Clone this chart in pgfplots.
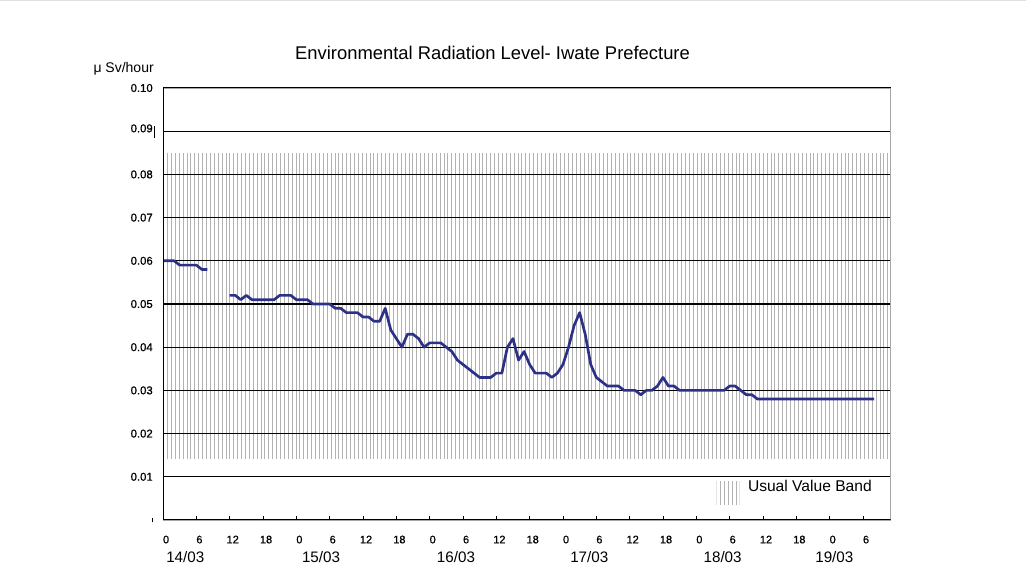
\documentclass[border=0pt]{standalone}
\usepackage{fontspec}
\setmainfont{Liberation Sans}
\newfontfamily\tickfont[FakeBold=0.8]{Liberation Sans}
\usepackage{pgfplots}
\pgfplotsset{compat=1.18}
\usetikzlibrary{patterns.meta}
\definecolor{series}{RGB}{44,48,134}
\definecolor{bandgray}{RGB}{178,178,178}
\begin{document}
\begin{tikzpicture}
\begin{axis}[
  at={(122.25pt,44.25pt)}, anchor=south west,
  scale only axis, width=545.8pt, height=324pt,
  xmin=0, xmax=131, ymin=0, ymax=0.1,
  set layers,
  axis line style={draw=gray!70, line width=0.6pt},
  xtick={0,6,...,126},
  xticklabels={0,6,12,18,0,6,12,18,0,6,12,18,0,6,12,18,0,6,12,18,0,6},
  xtick pos=left,
  tick align=inside,
  major tick length=3pt,
  xtick style={black, line width=0.6pt},
  xticklabel style={font=\tickfont\fontsize{8.2}{9.6}\selectfont, anchor=base, inner sep=0pt, yshift=-17.5pt, xshift=2.3pt},
  ytick={0,0.01,0.02,0.03,0.04,0.05,0.06,0.07,0.08,0.09,0.1},
  yticklabels={\rule{0.7pt}{3.5pt},0.01,0.02,0.03,0.04,0.05,0.06,0.07,0.08,0.09\rlap{\hspace{0.6pt}\rule[-4.3pt]{0.6pt}{8.7pt}},0.10},
  ytick style={draw=none},
  yticklabel style={font=\tickfont\fontsize{8.5}{10}\selectfont, anchor=east, inner sep=0pt, xshift=-7.5pt},
  ymajorgrids,
  grid style={black, line width=0.8pt},
  unbounded coords=jump,
]
\addplot[draw=none, pattern={Lines[angle=90,distance=2.92pt,line width=0.45pt]}, pattern color=bandgray, on layer=axis background]
  coordinates {(0,0.0143) (131,0.0143) (131,0.085) (0,0.085)} -- cycle;
\addplot[series, line width=2pt, line join=round, mark=none] coordinates {
(0,0.060)(1,0.060)(2,0.060)(3,0.059)(4,0.059)(5,0.059)(6,0.059)(7,0.058)(8,0.058)(9,nan)
(12,0.052)(13,0.052)(14,0.051)(15,0.052)(16,0.051)(17,0.051)(18,0.051)(19,0.051)(20,0.051)
(21,0.052)(22,0.052)(23,0.052)(24,0.051)(25,0.051)(26,0.051)(27,0.050)(28,0.050)(29,0.050)
(30,0.050)(31,0.049)(32,0.049)(33,0.048)(34,0.048)(35,0.048)(36,0.047)(37,0.047)(38,0.046)
(39,0.046)(40,0.049)(41,0.044)(42,0.042)(43,0.040)(44,0.043)(45,0.043)(46,0.042)(47,0.040)
(48,0.041)(49,0.041)(50,0.041)(51,0.040)(52,0.039)(53,0.037)(54,0.036)(55,0.035)(56,0.034)
(57,0.033)(58,0.033)(59,0.033)(60,0.034)(61,0.034)(62,0.040)(63,0.042)(64,0.037)(65,0.039)
(66,0.036)(67,0.034)(68,0.034)(69,0.034)(70,0.033)(71,0.034)(72,0.036)(73,0.040)(74,0.045)
(75,0.048)(76,0.043)(77,0.036)(78,0.033)(79,0.032)(80,0.031)(81,0.031)(82,0.031)(83,0.030)
(84,0.030)(85,0.030)(86,0.029)(87,0.030)(88,0.030)(89,0.031)(90,0.033)(91,0.031)(92,0.031)
(93,0.030)(94,0.030)(95,0.030)(96,0.030)(97,0.030)(98,0.030)(99,0.030)(100,0.030)(101,0.030)
(102,0.031)(103,0.031)(104,0.030)(105,0.029)(106,0.029)(107,0.028)(108,0.028)(109,0.028)
(110,0.028)(111,0.028)(112,0.028)(113,0.028)(114,0.028)(115,0.028)(116,0.028)(117,0.028)
(118,0.028)(119,0.028)(120,0.028)(121,0.028)(122,0.028)(123,0.028)(124,0.028)(125,0.028)
(126,0.028)(127,0.028)(128,0.028)
};
\draw[black, line width=0.8pt] (rel axis cs:0,1) -- (rel axis cs:0,0) -- (rel axis cs:1,0);
\end{axis}
\draw[gray!25, line width=0.75pt] (0,433.9pt) -- (769.5pt,433.9pt);
\node[anchor=base, inner sep=0pt, font=\fontsize{13.8}{16}\selectfont] at (369.4pt,389.8pt) {Environmental Radiation Level- Iwate Prefecture};
\node[anchor=base east, inner sep=0pt, font=\fontsize{10.5}{12}\selectfont] at (115.5pt,379.7pt) {μ Sv/hour};
\foreach \xx/\dd in {124.5/14, 226.3/15, 327.5/16, 427.5/17, 527.5/18, 611.3/19}
  \node[anchor=base west, inner sep=0pt, font=\fontsize{11.4}{13}\selectfont] at (\xx pt,12.2pt) {\dd/03};
\fill[pattern={Lines[angle=90,distance=2.92pt,line width=0.45pt]}, pattern color=bandgray] (537.5pt,55.5pt) rectangle (554.5pt,73pt);
\node[anchor=base west, inner sep=0pt, font=\fontsize{11.7}{14}\selectfont] at (560.8pt,65.5pt) {Usual Value Band};
\pgfresetboundingbox
\path[use as bounding box] (0,0) rectangle (769.5pt,434.25pt);
\end{tikzpicture}
\end{document}
